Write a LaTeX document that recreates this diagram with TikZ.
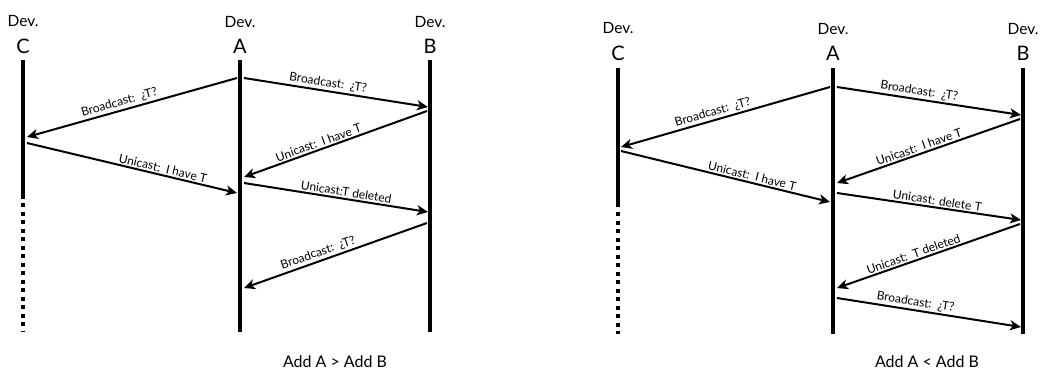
\documentclass[tikz,border=0pt]{standalone}
\usepackage{fontspec}
\setmainfont{Lato}
\usetikzlibrary{arrows.meta, positioning}
\tikzstyle{devname} = [font=\fontsize{15.5}{17}\selectfont, inner sep=0pt]
\tikzstyle{devletter} = [font=\fontsize{20}{22}\selectfont, inner sep=0pt, anchor=base]
\tikzstyle{life} = [draw, line width=4pt]
\tikzstyle{lost} = [draw, line width=4pt, dash pattern=on 4pt off 4.5pt]
\tikzstyle{msg} = [draw, line width=2pt, -{Stealth[length=11pt, width=10pt, inset=3pt]}]
\tikzstyle{lbl} = [font=\fontsize{12}{13}\selectfont, sloped, above, inner sep=1.5pt]
\tikzstyle{caption} = [font=\fontsize{16}{18}\selectfont]

\begin{document}
\begin{tikzpicture}[x=1pt, y=-1pt]
    \useasboundingbox (0,0) rectangle (1042,370);

    % left case: Add A > Add B
    \node [devletter] (lC) at (23,53) {C};
    \node [devletter] (lA) at (240,53) {A};
    \node [devletter] (lB) at (430,53) {B};
    \node [devname, above=11pt of lC] (lCdev) {Dev.};
    \node [devname, above=11pt of lA] (lAdev) {Dev.};
    \node [devname, above=11pt of lB] (lBdev) {Dev.};

    \coordinate (lCtop) at (23,60);
    \coordinate (lCmid) at (23,199);
    \coordinate (lCdot) at (23,203);
    \coordinate (lCbot) at (23,332);
    \coordinate (lAtop) at (240,60);
    \coordinate (lAbot) at (240,332);
    \coordinate (lBtop) at (430,60);
    \coordinate (lBbot) at (430,332);

    \draw [life] (lCtop) -- (lCmid);
    \draw [lost] (lCdot) -- (lCbot);
    \draw [life] (lAtop) -- (lAbot);
    \draw [life] (lBtop) -- (lBbot);

    \path (237,78) coordinate (la1) (27,137) coordinate (lc1)
          (27,143) coordinate (lc2) (237,193) coordinate (la2)
          (244,78) coordinate (la3) (428,107) coordinate (lb3)
          (427,111) coordinate (lb4) (244,177) coordinate (la4)
          (244,183) coordinate (la5) (428,212) coordinate (lb5)
          (427,223) coordinate (lb6) (244,288) coordinate (la6);

    \draw [msg] (la1) -- node[lbl, pos=0.55] {Broadcast:\, ¿T?} (lc1);
    \draw [msg] (lc2) -- node[lbl, pos=0.64] {Unicast:\, I have T} (la2);
    \draw [msg] (la3) -- node[lbl, pos=0.45] {Broadcast:\, ¿T?} (lb3);
    \draw [msg] (lb4) -- node[lbl, pos=0.58] {Unicast:\, I have T} (la4);
    \draw [msg] (la5) -- node[lbl, pos=0.55] {Unicast:T deleted} (lb5);
    \draw [msg] (lb6) -- node[lbl, pos=0.58] {Broadcast:\, ¿T?} (la6);

    \node [caption] (lcap) at (335,362) {Add A > Add B};

    % right case: Add A < Add B
    \node [devletter] (rC) at (618,60) {C};
    \node [devletter] (rA) at (833,60) {A};
    \node [devletter] (rB) at (1023,60) {B};
    \node [devname, above=11pt of rC] (rCdev) {Dev.};
    \node [devname, above=11pt of rA] (rAdev) {Dev.};
    \node [devname, above=11pt of rB] (rBdev) {Dev.};

    \coordinate (rCtop) at (618,68);
    \coordinate (rCmid) at (618,207);
    \coordinate (rCdot) at (618,212);
    \coordinate (rCbot) at (618,334);
    \coordinate (rAtop) at (833,68);
    \coordinate (rAbot) at (833,334);
    \coordinate (rBtop) at (1023,68);
    \coordinate (rBbot) at (1023,334);

    \draw [life] (rCtop) -- (rCmid);
    \draw [lost] (rCdot) -- (rCbot);
    \draw [life] (rAtop) -- (rAbot);
    \draw [life] (rBtop) -- (rBbot);

    \path (830,87) coordinate (ra1) (621,147) coordinate (rc1)
          (621,151) coordinate (rc2) (830,202) coordinate (ra2)
          (837,87) coordinate (ra3) (1021,115) coordinate (rb3)
          (1020,119) coordinate (rb4) (837,183) coordinate (ra4)
          (837,193) coordinate (ra5) (1021,220) coordinate (rb5)
          (1020,224) coordinate (rb6) (837,288) coordinate (ra6)
          (837,298) coordinate (ra7) (1021,327) coordinate (rb7);

    \draw [msg] (ra1) -- node[lbl, pos=0.55] {Broadcast:\, ¿T?} (rc1);
    \draw [msg] (rc2) -- node[lbl, pos=0.62] {Unicast:\, I have T} (ra2);
    \draw [msg] (ra3) -- node[lbl, pos=0.44] {Broadcast:\, ¿T?} (rb3);
    \draw [msg] (rb4) -- node[lbl, pos=0.54] {Unicast:\, I have T} (ra4);
    \draw [msg] (ra5) -- node[lbl, pos=0.54] {Unicast: delete T} (rb5);
    \draw [msg] (rb6) -- node[lbl, pos=0.57] {Unicast:\, T deleted} (ra6);
    \draw [msg] (ra7) -- node[lbl, pos=0.42] {Broadcast:\, ¿T?} (rb7);

    \node [caption] (rcap) at (927,362) {Add A < Add B};
\end{tikzpicture}
\end{document}
